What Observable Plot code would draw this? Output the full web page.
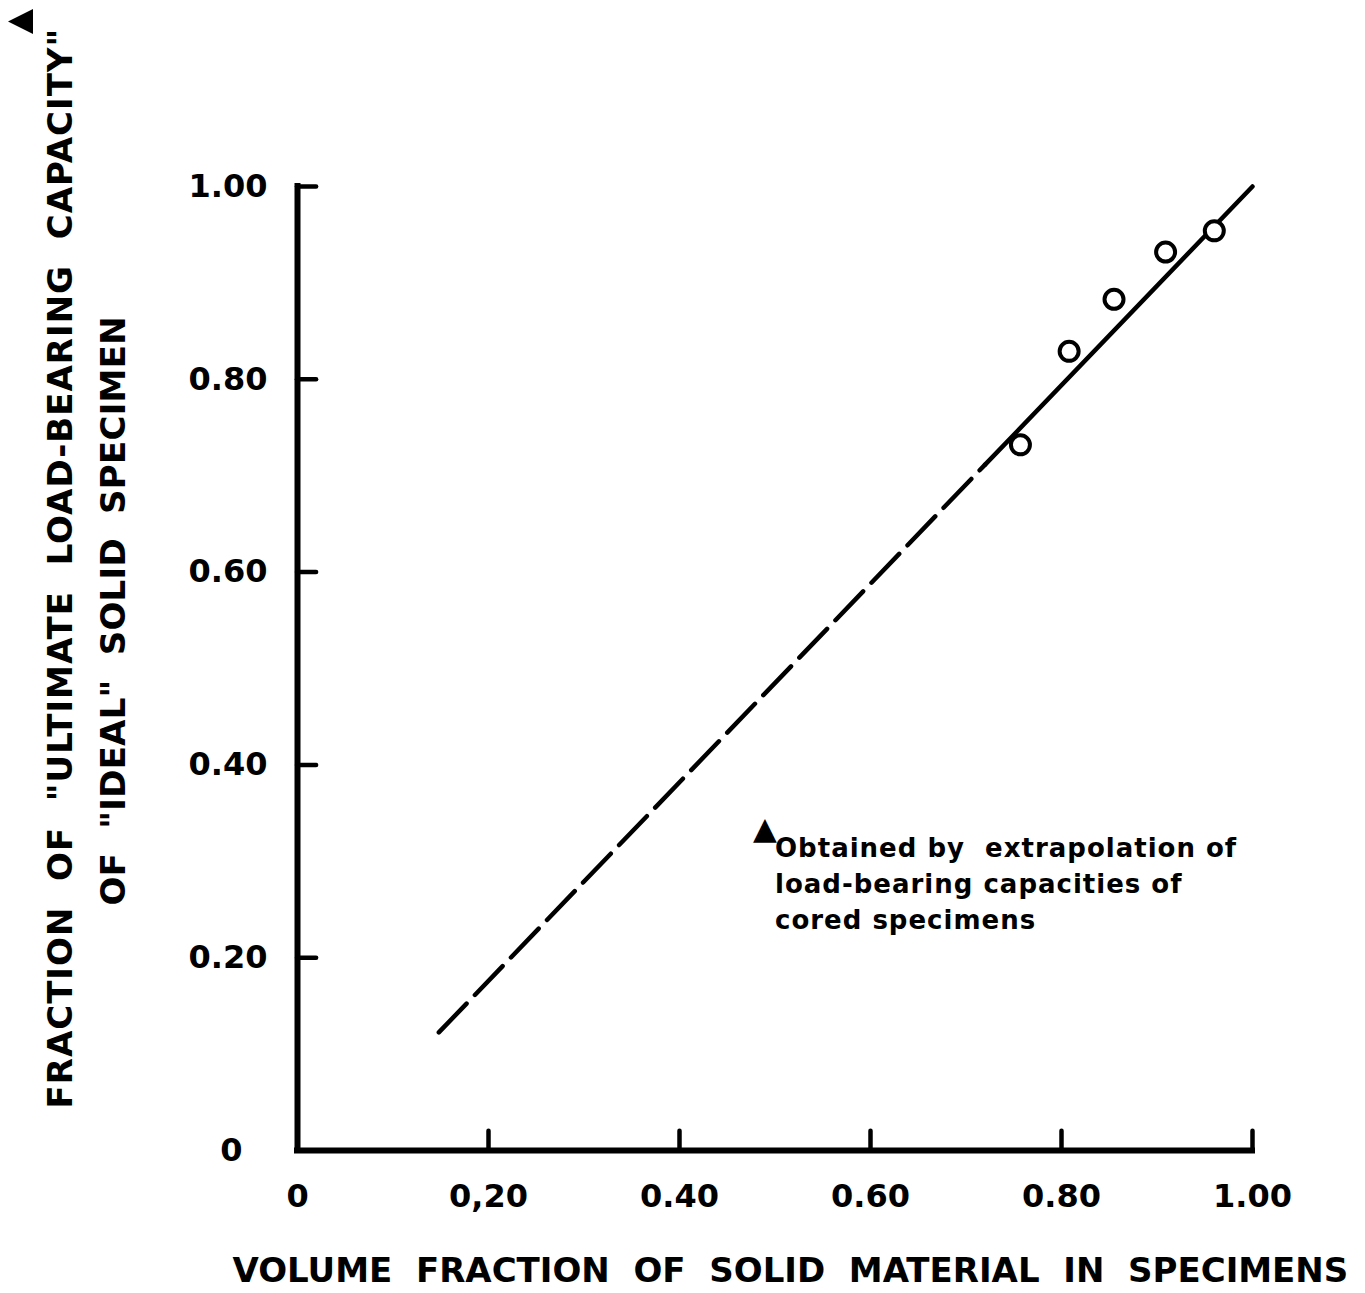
<!DOCTYPE html>
<html>
<head>
<meta charset="utf-8">
<script src="https://cdn.jsdelivr.net/npm/d3@7"></script>
<script src="https://cdn.jsdelivr.net/npm/@observablehq/plot@0.6"></script>
<style>
  html, body { margin: 0; padding: 0; background: #fff; }
  svg { display: block; }
  text[aria-label="note"] { letter-spacing: 1px; white-space: pre; }
  text[aria-label="y-title-1"] { letter-spacing: 1px; }
  text[aria-label="y-title-2"] { letter-spacing: 0.25px; }
</style>
</head>
<body>
<script>
// ---- data ----
const pointsX = [0.757, 0.808, 0.855, 0.909, 0.960];
const pointsY = [0.732, 0.829, 0.883, 0.932, 0.954];
// fitted line: dashed (extrapolated) part then solid part
const fitX = [0.148, 0.72, 1.0];
const fitY = [0.1225, 0.7115, 1.0];
const xTickValues = [0, 0.2, 0.4, 0.6, 0.8, 1.0];
const xTickLabels = ["0", "0,20", "0.40", "0.60", "0.80", "1.00"];
const yTickValues = [0, 0.2, 0.4, 0.6, 0.8, 1.0];
const yTickLabels = ["0", "0.20", "0.40", "0.60", "0.80", "1.00"];
const xTitle = "VOLUME FRACTION OF SOLID MATERIAL IN SPECIMENS";
const yTitle1 = "FRACTION OF \"ULTIMATE LOAD-BEARING CAPACITY\"";
const yTitle2 = "OF \"IDEAL\" SOLID SPECIMEN";
const noteText = "Obtained by  extrapolation of\nload-bearing capacities of\ncored specimens";
const marker = "\u25B2";

// ---- derived tables ----
const points = pointsX.map((x, i) => ({x, y: pointsY[i]}));
const fit = fitX.map((x, i) => ({x, y: fitY[i]}));
const dashedPart = fit.slice(0, 2);
const solidPart = fit.slice(1);
const spaced = (s, n) => s.replace(/ /g, "\u00A0".repeat(n));

// left-pointing triangle (the title's marker, which is rotated with the title)
const triangleLeft = {
  draw(context, size) {
    const s = Math.sqrt(size / Math.PI);
    context.moveTo(-s, 0);
    context.lineTo(s, -s);
    context.lineTo(s, s);
    context.closePath();
  }
};

const bold = "bold";

const chart = Plot.plot({
  width: 1365,
  height: 1293,
  marginLeft: 297,
  marginRight: 113,
  marginTop: 186,
  marginBottom: 143,
  x: {domain: [0, 1], axis: null},
  y: {domain: [0, 1], axis: null},
  style: {fontFamily: "DejaVu Sans", background: "white", color: "black"},
  marks: [
    // axis lines
    Plot.ruleX([0], {y1: 0, y2: 1, strokeWidth: 6, strokeLinecap: "square"}),
    Plot.ruleY([0], {x1: 0, x2: 1, strokeWidth: 6, strokeLinecap: "square"}),
    // inward ticks
    Plot.ruleX(xTickValues.slice(1), {x: d => d, y1: 0, y2: 0.02, strokeWidth: 4.5, strokeLinecap: "round"}),
    Plot.ruleY(yTickValues.slice(1), {y: d => d, x1: 0, x2: 0.02, strokeWidth: 4.5, strokeLinecap: "round"}),
    // tick labels
    Plot.text(xTickValues, {x: d => d, text: (d, i) => xTickLabels[i], frameAnchor: "bottom", lineAnchor: "middle",
      dy: 46, fontSize: 32, fontWeight: bold}),
    Plot.text(yTickValues.slice(1), {y: d => d, text: (d, i) => yTickLabels[i + 1], frameAnchor: "left",
      lineAnchor: "middle", textAnchor: "end", dx: -30, fontSize: 32, fontWeight: bold}),
    Plot.text(yTickValues.slice(0, 1), {y: d => d, text: (d, i) => yTickLabels[i], frameAnchor: "left",
      lineAnchor: "middle", textAnchor: "end", dx: -55, fontSize: 32, fontWeight: bold}),
    // fitted line
    Plot.line(dashedPart, {x: "x", y: "y", strokeWidth: 4.5, strokeDasharray: "40,12"}),
    Plot.line(solidPart, {x: "x", y: "y", strokeWidth: 4.5}),
    // data points
    Plot.dot(points, {x: "x", y: "y", r: 9.5, stroke: "black", strokeWidth: 4, fill: "white"}),
    // annotation
    Plot.text([noteText], {x: 0.5, y: 0.331, text: d => d, textAnchor: "start", lineAnchor: "top",
      lineHeight: 1.38, fontSize: 26, fontWeight: bold, ariaLabel: () => "note"}),
    Plot.text([marker], {x: 0.5, y: 0.331, text: d => d, dx: -10, dy: -2, lineAnchor: "middle", fontSize: 31}),
    // axis titles
    Plot.text([xTitle], {text: d => spaced(d, 2), frameAnchor: "bottom-left", lineAnchor: "middle",
      textAnchor: "start", dx: -65, dy: 121, fontSize: 34, fontWeight: bold}),
    Plot.text([yTitle1], {text: d => spaced(d, 2), frameAnchor: "bottom-left", lineAnchor: "middle", rotate: -90,
      textAnchor: "start", dx: -236, dy: -42, fontSize: 34, fontWeight: bold, ariaLabel: () => "y-title-1"}),
    Plot.text([yTitle2], {text: d => spaced(d, 2), frameAnchor: "bottom-left", lineAnchor: "middle", rotate: -90,
      textAnchor: "start", dx: -183, dy: -245, fontSize: 34, fontWeight: bold, ariaLabel: () => "y-title-2"}),
    Plot.dot([marker], {frameAnchor: "top-left", symbol: triangleLeft, r: 12.5, fill: "black", stroke: null,
      dx: -277, dy: -165})
  ]
});

document.body.appendChild(chart);
</script>
</body>
</html>
